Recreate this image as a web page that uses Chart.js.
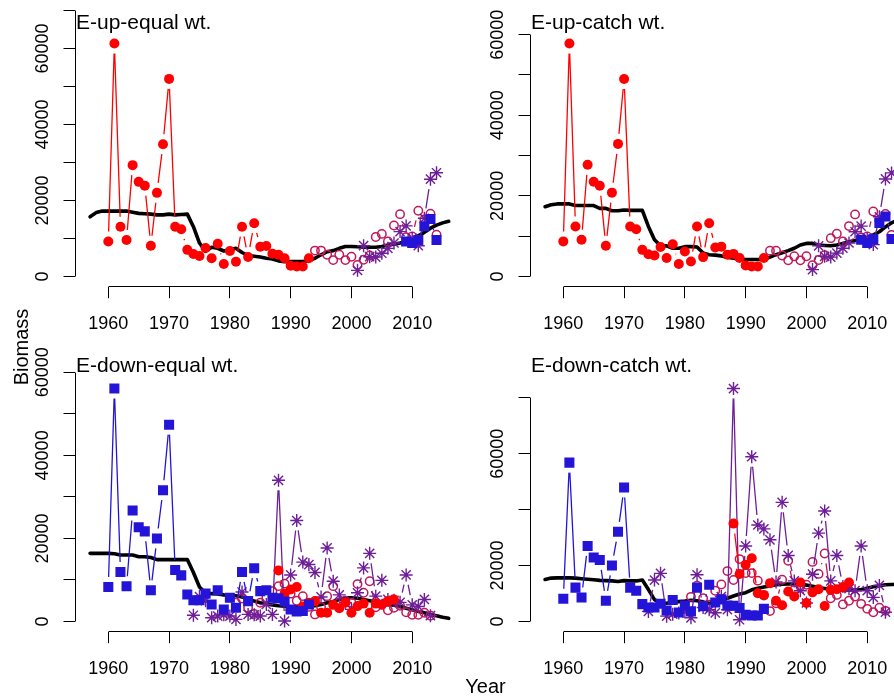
<!DOCTYPE html>
<html>
<head>
<meta charset="utf-8">
<script src="https://cdn.jsdelivr.net/npm/chart.js@4.4.1/dist/chart.umd.min.js"></script>
<style>
  html, body { margin: 0; padding: 0; background: #fff; }
  #fig { position: relative; width: 894px; height: 700px; overflow: hidden; background: #fff; }
  #fig canvas { position: absolute; }
  .outer-label { position: absolute; font-family: 'Liberation Sans', Arial, Helvetica, sans-serif; font-size: 20px;
                 line-height: 20px; height: 20px; text-align: center; color: #000; white-space: nowrap; }
  #ylab { left: -79px; top: 337px; width: 200px; transform: rotate(-90deg); }
  #xlab { left: 435.5px; top: 676px; width: 100px; }
</style>
</head>
<body>
<div id="fig">
  <canvas id="pTL" width="500" height="356" style="left:0px;top:0px"></canvas>
  <canvas id="pTR" width="500" height="356" style="left:455px;top:0px"></canvas>
  <canvas id="pBL" width="500" height="356" style="left:0px;top:345px"></canvas>
  <canvas id="pBR" width="500" height="356" style="left:455px;top:345px"></canvas>
  <div class="outer-label" id="ylab">Biomass</div>
  <div class="outer-label" id="xlab">Year</div>
</div>
<script>
// ---------- years ----------
const yrsTrend = [1957,1958,1959,1960,1961,1962,1963,1964,1965,1966,1967,1968,1969,1970,1971,1972,1973,1974,1975,1976,
  1977,1978,1979,1980,1981,1982,1983,1984,1985,1986,1987,1988,1989,1990,1991,1992,1993,1994,1995,1996,
  1997,1998,1999,2000,2001,2002,2003,2004,2005,2006,2007,2008,2009,2010,2011,2012,2013,2014,2015,2016];
const yrs1960to1993 = [1960,1961,1962,1963,1964,1965,1966,1967,1968,1969,1970,1971,1972,1973,1974,1975,1976,
  1977,1978,1979,1980,1981,1982,1983,1984,1985,1986,1987,1988,1989,1990,1991,1992,1993];
const yrs1994to2014 = [1994,1995,1996,1997,1998,1999,2000,2001,2002,2003,2004,2005,2006,2007,2008,2009,2010,2011,2012,2013,2014];
const yrs2001to2014 = [2001,2002,2003,2004,2005,2006,2007,2008,2009,2010,2011,2012,2013,2014];
const yrs2009to2014 = [2009,2010,2011,2012,2013,2014];
const yrs1974to2013 = [1974,1975,1976,1977,1978,1979,1980,1981,1982,1983,1984,1985,1986,1987,1988,1989,1990,1991,1992,1993,
  1994,1995,1996,1997,1998,1999,2000,2001,2002,2003,2004,2005,2006,2007,2008,2009,2010,2011,2012,2013];
const yrs1988to2007 = [1988,1989,1990,1991,1992,1993,1994,1995,1996,1997,1998,1999,2000,2001,2002,2003,2004,2005,2006,2007];
const yrs1981to2013 = [1981,1982,1983,1984,1985,1986,1987,1988,1989,1990,1991,1992,1993,1994,1995,1996,1997,1998,1999,2000,
  2001,2002,2003,2004,2005,2006,2007,2008,2009,2010,2011,2012,2013];

// ---------- E-up-equal wt. ----------
const upEqTrend = [15700,16800,17200,17200,17200,17200,17200,16900,16600,16500,16400,16200,16200,16400,16200,16300,16400,13100,8800,6600,
  7700,7400,6700,7000,7400,6300,5500,5300,5100,4800,4600,4100,3900,3900,3900,3900,4200,4800,5700,6500,
  6800,7400,7900,7900,7800,7700,7700,7700,7900,8300,8500,8800,9200,9700,10700,11600,12700,13500,14100,14500];
const upEqRed = [9200,61300,13100,9600,29300,24900,23900,8100,22000,34800,52000,13100,12400,7000,5900,5400,7500,4800,8600,3300,
  6700,3900,13100,5100,14000,7800,8000,6000,5700,4800,2800,2600,2600,4800];
const upEqCircle = [6800,6800,5700,4300,5700,4300,5200,3000,4400,5500,10400,11200,9200,13400,16400,10300,10500,17300,15000,16500,11000];
const upEqStar = [1600,8100,5200,5100,6100,7400,8800,11800,13300,10000,8100,15300,25600,27300];
const upEqSquare = [9200,8800,9600,13200,15100,9600];

// ---------- E-up-catch wt. ----------
const upCatchTrend = [17300,17800,18000,18000,18000,17600,17600,17600,17600,16900,16900,16300,16300,16500,16400,16400,16400,12400,9100,7600,
  7600,7000,7000,7400,7400,7300,5800,5400,5300,5100,4800,4500,4300,4200,4200,4200,4200,4800,5400,5900,
  6400,7000,7800,8200,8200,7800,7700,7600,7800,8200,8600,8900,9200,9700,10300,11100,12300,13300,14000,14500];
const upCatchRed = [8700,57800,12400,9100,27700,23500,22500,7600,20800,32900,49000,12400,11700,6600,5500,5200,7300,4600,8000,3100,
  6200,3700,12400,4800,13200,7200,7400,5400,5600,4600,2700,2500,2500,4600];
const upCatchCircle = [6400,6400,5200,4000,5000,4000,5000,2800,4100,5300,9500,10600,8700,12500,15400,9700,9900,16100,14000,15500,10300];
const upCatchStar = [1700,7600,5000,4800,5800,7000,8300,11100,12500,9500,7900,14800,24200,25700];
const upCatchSquare = [9100,8300,9200,13300,14900,9300];

// ---------- E-down-equal wt. ----------
const downEqTrend = [16400,16400,16400,16400,16300,16000,16000,16000,15600,15600,15400,14900,14900,14900,14900,14900,14900,11800,8300,6800,
  6700,6600,6400,6300,6200,5900,5500,4900,4500,4200,4000,3800,3700,3500,3500,3500,3600,3800,4100,4500,
  4800,5300,5700,5700,5600,5300,5000,4700,4400,4100,3900,3600,3200,2800,2400,2100,1700,1400,1000,750];
const downEqSquare = [8300,56100,11900,8500,26700,22700,21700,7500,20000,31600,47400,12400,11100,6500,5100,5100,6700,4100,7500,2900,
  5700,3300,11900,4900,12800,7300,7500,5700,5600,4800,2900,2400,2500,4100];
const downEqStar = [1500,6000,5000,900,1300,1600,1300,500,7100,1700,1600,1300,4100,1700,34000,100,11200,24300,14300,13700,
  11800,5900,17700,9700,6400,4500,2900,6900,12900,16400,6100,9900,5300,5100,4600,11200,4000,3600,5300,1400];
const downEqRed = [12300,6700,7700,8300,3600,4500,4900,2100,2100,4000,3200,4500,2100,3700,4300,2100,4300,4100,4900,5300];
const downEqCircle = [4500,5500,3300,1800,4500,5700,7300,8500,9100,6700,5000,6100,3500,1700,3500,6100,8500,4500,5000,4500,
  9000,6900,9700,3400,4000,2700,3300,3800,2200,1600,1600,2100,1400];

// ---------- E-down-catch wt. ----------
const downCatchTrend = [15000,15500,15600,15600,15600,15500,15300,15100,14900,14700,14600,14500,14300,14600,14500,14500,14800,11400,7800,6500,
  6500,6900,7100,7300,7600,7400,7000,6500,6800,7600,8300,9100,9800,10300,11300,11900,12300,12700,13100,13300,
  13400,13400,13300,13000,12600,12100,11800,11500,11300,11300,11300,11300,11400,11900,12400,12800,13100,13200,13300,13400];
const downCatchSquare = [8100,56800,12100,8600,27000,22900,22000,7400,20000,32100,47900,12100,11000,6200,5000,5000,6300,3900,7700,3200,
  5700,3600,12100,5400,13100,6800,7900,5700,5600,4800,2400,2100,2100,4500];
const downCatchStar = [3600,14800,17200,1900,2600,3000,3500,1300,16700,5000,4200,3100,8900,4200,83300,600,27000,58900,34500,33100,
  29200,14100,42600,23600,14500,11000,6600,16900,31600,39500,14500,23600,12500,11700,11000,27000,11000,8600,12900,3300];
const downCatchRed = [35000,17000,20300,22600,10100,9500,13700,7400,5800,10700,8900,13900,6600,10400,11500,5500,11300,11500,12300,13900];
const downCatchCircle = [8800,12800,8300,6000,11000,13200,18000,14800,22300,17300,17300,14600,9300,3700,6500,14900,21700,11300,12500,13100,
  21300,17000,24300,8300,9500,6100,7400,8900,6300,4500,3300,4900,3800];

// ---------- axis ticks ----------
const xTicks = [1960, 1970, 1980, 1990, 2000, 2010];
const yTicksTo70k = [0, 10000, 20000, 30000, 40000, 50000, 60000, 70000];
const yTicksTo60k = [0, 10000, 20000, 30000, 40000, 50000, 60000];
const yTicksBy20k = [0, 20000, 40000, 60000, 80000];
const yLabelsStd = [0, 20000, 40000, 60000];
const yLabelsSparse = [0, 20000, 60000];

// ---------- styling ----------
const FONT = "'Liberation Sans', Arial, Helvetica, sans-serif";
const COL = { red: '#ff0000', circle: '#c0185a', star: '#6e1e98', square: '#2414d8', trend: '#000000' };
const GAP = 10;            // gap left around each marker by the connecting segments
const Y_AXIS_W = 60;       // reserved width of the y scale box
const X_AXIS_H = 50;       // reserved height of the x scale box
const AREA_LEFT = 75, AREA_RIGHT = 482, AREA_TOP = 10, AREA_BOTTOM = 286.7;
const CANVAS_W = 500, CANVAS_H = 356;

function pts(years, vals) { return years.map((yr, i) => ({ x: yr, y: vals[i] })); }

function alignPx(v) { return Math.round(v - 0.5) + 0.5; }

// Connecting segments in the "points joined with gaps" style
const gapLines = {
  id: 'gapLines',
  beforeDatasetDraw(chart, args) {
    const ds = chart.data.datasets[args.index];
    if (!ds.gapLine) return;
    const p = args.meta.data;
    const ctx = chart.ctx, a = chart.chartArea;
    ctx.save();
    ctx.beginPath();
    ctx.rect(a.left, a.top, a.right - a.left, a.bottom - a.top);
    ctx.clip();
    ctx.strokeStyle = ds.borderColor;
    ctx.lineWidth = 1.3;
    ctx.beginPath();
    for (let i = 1; i < p.length; i++) {
      const dx = p[i].x - p[i - 1].x, dy = p[i].y - p[i - 1].y;
      const d = Math.hypot(dx, dy);
      if (d <= 2 * GAP) continue;
      const ux = dx / d, uy = dy / d;
      ctx.moveTo(p[i - 1].x + ux * GAP, p[i - 1].y + uy * GAP);
      ctx.lineTo(p[i].x - ux * GAP, p[i].y - uy * GAP);
    }
    ctx.stroke();
    ctx.restore();
  }
};

// Axis lines spanning first to last tick, rotated y labels, panel title
const panelDecor = {
  id: 'panelDecor',
  afterDraw(chart, args, o) {
    const { ctx, chartArea: a, scales: { x, y } } = chart;
    ctx.save();
    ctx.strokeStyle = '#000';
    ctx.lineWidth = 1;
    const ax = alignPx(a.left), ay = alignPx(a.bottom);
    ctx.beginPath();
    ctx.moveTo(ax, alignPx(y.getPixelForValue(o.yTicks[0])));
    ctx.lineTo(ax, alignPx(y.getPixelForValue(o.yTicks[o.yTicks.length - 1])));
    ctx.moveTo(alignPx(x.getPixelForValue(xTicks[0])), ay);
    ctx.lineTo(alignPx(x.getPixelForValue(xTicks[xTicks.length - 1])), ay);
    ctx.stroke();

    ctx.fillStyle = '#000';
    ctx.font = '18px ' + FONT;
    ctx.textAlign = 'center';
    ctx.textBaseline = 'middle';
    o.yLabels.forEach(v => {
      ctx.save();
      ctx.translate(a.left - 31.5, y.getPixelForValue(v));
      ctx.rotate(-Math.PI / 2);
      ctx.fillText(String(v), 0, 0);
      ctx.restore();
    });

    ctx.font = '21px ' + FONT;
    ctx.textAlign = 'left';
    ctx.textBaseline = 'alphabetic';
    ctx.fillText(o.title, a.left + 1, o.titleY);
    ctx.restore();
  }
};

function makePanel(id, p) {
  const series = [p.trend, ...p.sets.map(s => s.vals)];
  const top = Math.max(...series.map(v => Math.max(...v)));
  const r = 1.1 * top;

  const styleOf = {
    red:    { pointStyle: 'circle', pointRadius: 5, backgroundColor: COL.red, borderColor: COL.red, pointBorderWidth: 0 },
    circle: { pointStyle: 'circle', pointRadius: 4.2, backgroundColor: 'rgba(0,0,0,0)', borderColor: COL.circle, pointBorderWidth: 1.5 },
    star:   { pointStyle: 'star', pointRadius: 6.5, backgroundColor: COL.star, borderColor: COL.star, pointBorderWidth: 1.4 },
    square: { pointStyle: 'rect', pointRadius: 7.1, backgroundColor: COL.square, borderColor: COL.square, pointBorderWidth: 0 }
  };

  // first dataset is painted last (on top)
  const datasets = p.sets.map(s => Object.assign({
    label: s.name,
    data: pts(s.years, s.vals),
    showLine: false,
    gapLine: true
  }, styleOf[s.kind]));
  datasets.push({
    label: 'trend',
    data: pts(yrsTrend, p.trend),
    showLine: true,
    borderColor: COL.trend,
    borderWidth: 3.6,
    borderJoinStyle: 'round',
    borderCapStyle: 'round',
    pointRadius: 0,
    tension: 0
  });

  const gridOpts = { display: true, drawOnChartArea: false, drawTicks: true, tickLength: 11.5, color: '#000', lineWidth: 1 };

  return new Chart(document.getElementById(id), {
    type: 'scatter',
    data: { datasets },
    options: {
      responsive: false,
      animation: false,
      devicePixelRatio: 1,
      events: [],
      layout: { padding: {
        left: AREA_LEFT - Y_AXIS_W,
        right: CANVAS_W - AREA_RIGHT,
        top: AREA_TOP,
        bottom: CANVAS_H - AREA_BOTTOM - X_AXIS_H
      } },
      plugins: {
        legend: { display: false },
        tooltip: { enabled: false },
        panelDecor: { title: p.title, titleY: p.titleY, yTicks: p.yTicks, yLabels: p.yLabels }
      },
      scales: {
        x: {
          type: 'linear', min: 1954.52, max: 2021.48,
          afterBuildTicks: s => { s.ticks = xTicks.map(v => ({ value: v })); },
          afterFit: s => { s.height = X_AXIS_H; },
          grid: gridOpts,
          border: { display: false },
          ticks: { autoSkip: false, maxRotation: 0, minRotation: 0, padding: 15, color: '#000',
                   font: { family: FONT, size: 18 }, callback: v => String(v) }
        },
        y: {
          type: 'linear', min: -0.04 * r, max: 1.04 * r,
          afterBuildTicks: s => { s.ticks = p.yTicks.map(v => ({ value: v })); },
          afterFit: s => { s.width = Y_AXIS_W; },
          grid: gridOpts,
          border: { display: false },
          ticks: { display: false, autoSkip: false }
        }
      }
    },
    plugins: [gapLines, panelDecor]
  });
}

makePanel('pTL', {
  title: 'E-up-equal wt.', titleY: 29.3,
  trend: upEqTrend, yTicks: yTicksTo70k, yLabels: yLabelsStd,
  sets: [
    { name: 'squares', kind: 'square', years: yrs2009to2014, vals: upEqSquare },
    { name: 'stars', kind: 'star', years: yrs2001to2014, vals: upEqStar },
    { name: 'circles', kind: 'circle', years: yrs1994to2014, vals: upEqCircle },
    { name: 'dots', kind: 'red', years: yrs1960to1993, vals: upEqRed }
  ]
});

makePanel('pTR', {
  title: 'E-up-catch wt.', titleY: 29.3,
  trend: upCatchTrend, yTicks: yTicksTo60k, yLabels: yLabelsStd,
  sets: [
    { name: 'squares', kind: 'square', years: yrs2009to2014, vals: upCatchSquare },
    { name: 'stars', kind: 'star', years: yrs2001to2014, vals: upCatchStar },
    { name: 'circles', kind: 'circle', years: yrs1994to2014, vals: upCatchCircle },
    { name: 'dots', kind: 'red', years: yrs1960to1993, vals: upCatchRed }
  ]
});

makePanel('pBL', {
  title: 'E-down-equal wt.', titleY: 26.7,
  trend: downEqTrend, yTicks: yTicksTo60k, yLabels: yLabelsStd,
  sets: [
    { name: 'squares', kind: 'square', years: yrs1960to1993, vals: downEqSquare },
    { name: 'dots', kind: 'red', years: yrs1988to2007, vals: downEqRed },
    { name: 'stars', kind: 'star', years: yrs1974to2013, vals: downEqStar },
    { name: 'circles', kind: 'circle', years: yrs1981to2013, vals: downEqCircle }
  ]
});

makePanel('pBR', {
  title: 'E-down-catch wt.', titleY: 26.7,
  trend: downCatchTrend, yTicks: yTicksBy20k, yLabels: yLabelsSparse,
  sets: [
    { name: 'squares', kind: 'square', years: yrs1960to1993, vals: downCatchSquare },
    { name: 'dots', kind: 'red', years: yrs1988to2007, vals: downCatchRed },
    { name: 'stars', kind: 'star', years: yrs1974to2013, vals: downCatchStar },
    { name: 'circles', kind: 'circle', years: yrs1981to2013, vals: downCatchCircle }
  ]
});
</script>
</body>
</html>
